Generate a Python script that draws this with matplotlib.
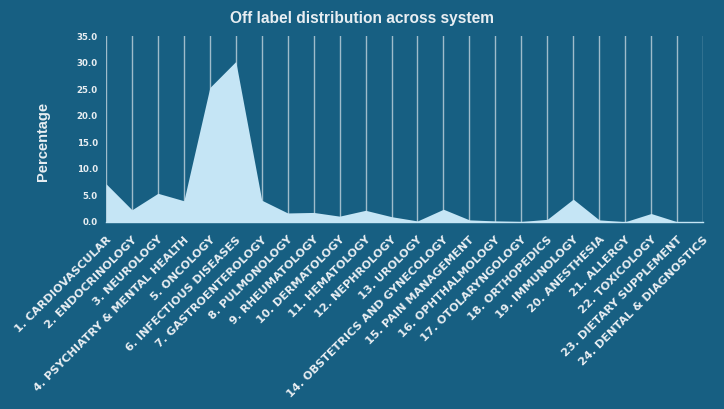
import matplotlib
matplotlib.use("Agg")
import matplotlib.pyplot as plt

categories = [
    "1. CARDIOVASCULAR", "2. ENDOCRINOLOGY", "3. NEUROLOGY",
    "4. PSYCHIATRY & MENTAL HEALTH", "5. ONCOLOGY", "6. INFECTIOUS DISEASES",
    "7. GASTROENTEROLOGY", "8. PULMONOLOGY", "9. RHEUMATOLOGY",
    "10. DERMATOLOGY", "11. HEMATOLOGY", "12. NEPHROLOGY", "13. UROLOGY",
    "14. OBSTETRICS AND GYNECOLOGY", "15. PAIN MANAGEMENT",
    "16. OPHTHALMOLOGY", "17. OTOLARYNGOLOGY", "18. ORTHOPEDICS",
    "19. IMMUNOLOGY", "20. ANESTHESIA", "21. ALLERGY", "22. TOXICOLOGY",
    "23. DIETARY SUPPLEMENT", "24. DENTAL & DIAGNOSTICS",
]
percentages = [7.2, 2.3, 5.4, 4.0, 25.3, 30.2, 4.1, 1.7, 1.8, 1.1, 2.2, 1.0,
               0.2, 2.4, 0.4, 0.2, 0.1, 0.5, 4.3, 0.4, 0.05, 1.6, 0.05, 0.0]
yticks = [0, 5, 10, 15, 20, 25, 30, 35]

BG = "#175f82"
FILL = "#c5e5f5"
GRID = "#9fbccb"
TXT = "#e8eef2"

fig = plt.figure(figsize=(7.24, 4.09), dpi=100, facecolor=BG)
ax = fig.add_axes([106 / 724, 1 - 222 / 409, (703 - 106) / 724, (222 - 36) / 409])
ax.set_facecolor(BG)

x = list(range(len(categories)))
ax.fill_between(x, percentages, 0, color=FILL, linewidth=0, zorder=3)

ax.set_xlim(0, len(categories) - 1)
ax.set_ylim(0, 35)
ax.set_xticks(x)
ax.set_xticklabels(categories, rotation=45, ha="right", va="top",
                   rotation_mode="anchor", fontsize=8.1, fontweight="bold",
                   color=TXT, family="DejaVu Sans")
ax.set_yticks(yticks)
ax.set_yticklabels([f"{v:.1f}" for v in yticks], fontsize=6.2,
                   fontweight="bold", color=TXT, family="DejaVu Sans")
ax.tick_params(axis="both", length=0)
ax.tick_params(axis="y", pad=6)
ax.tick_params(axis="x", pad=9)

ax.grid(axis="x", color=GRID, linewidth=1.0, zorder=1)
ax.grid(axis="y", visible=False)
ax.set_axisbelow(True)
for s in ["top", "right", "left"]:
    ax.spines[s].set_visible(False)
ax.spines["bottom"].set_color(FILL)
ax.spines["bottom"].set_linewidth(1.0)

fig.text(43 / 724, 1 - 141 / 409, "Percentage", rotation=90,
         ha="center", va="center", fontsize=10.5, fontweight="bold",
         color=TXT, family="Liberation Sans")
fig.text(362 / 724, 1 - 18 / 409, "Off label distribution across system",
         ha="center", va="center", fontsize=11.2, fontweight="bold",
         color=TXT, family="Liberation Sans")

fig.savefig("out.png", dpi=100, facecolor=BG)
